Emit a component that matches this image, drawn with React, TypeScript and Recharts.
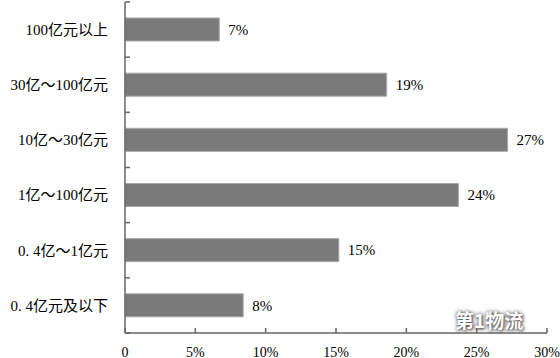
import { Bar, BarChart, LabelList, XAxis, YAxis } from "recharts"

const categories = [
  "100亿元以上",
  "30亿～100亿元",
  "10亿～30亿元",
  "1亿～100亿元",
  "0. 4亿～1亿元",
  "0. 4亿元及以下",
]
const shares = [6.7, 18.6, 27.2, 23.7, 15.2, 8.4]
const shareLabels = ["7%", "19%", "27%", "24%", "15%", "8%"]
const xTicks = [0, 5, 10, 15, 20, 25, 30]

const data = categories.map((name, i) => ({ name, share: shares[i], label: shareLabels[i] }))

const FONT = "'Liberation Serif', 'Noto Sans CJK SC', serif"
const AXIS = "#666666"
const TICK = 5
const Y_MARGIN = 12
const X_MARGIN = 9

// category label plus a short tick on the band edge below it (and above the first one)
function CategoryTick(props: any) {
  const { x, y, payload, index } = props
  const axisX = x + TICK + Y_MARGIN
  const half = payload.offset || 0
  return (
    <g>
      <text x={x} y={y} dy="0.36em" textAnchor="end" fill="#000" fontSize={15} fontFamily={FONT}>
        {payload.value}
      </text>
      {index === 0 && <line x1={axisX} x2={axisX + TICK} y1={y - half} y2={y - half} stroke={AXIS} strokeWidth={1.5} />}
      <line x1={axisX} x2={axisX + TICK} y1={y + half} y2={y + half} stroke={AXIS} strokeWidth={1.5} />
    </g>
  )
}

// value tick pointing up into the plot, label below the axis
function ValueTick(props: any) {
  const { x, y, payload } = props
  const axisY = y - TICK - X_MARGIN
  return (
    <g>
      <line x1={x} x2={x} y1={axisY} y2={axisY - TICK} stroke={AXIS} strokeWidth={1.5} />
      <text x={x} y={y} dy="0.71em" textAnchor="middle" fill="#000" fontSize={14} fontFamily={FONT}>
        {payload.value === 0 ? "0" : `${payload.value}%`}
      </text>
    </g>
  )
}

export default function App() {
  return (
    <div style={{ position: "absolute", left: 0, top: 0, width: 560, height: 358, background: "#fff" }}>
      <BarChart
        width={560}
        height={358}
        data={data}
        layout="vertical"
        margin={{ top: 2, right: 13, left: 0, bottom: 0 }}
        barCategoryGap="29%"
      >
        <XAxis
          type="number"
          domain={[0, 30]}
          ticks={xTicks}
          height={25}
          stroke={AXIS}
          strokeWidth={1.5}
          tickLine={false}
          tickSize={TICK}
          tickMargin={X_MARGIN}
          tick={<ValueTick />}
        />
        <YAxis
          type="category"
          dataKey="name"
          width={125}
          stroke={AXIS}
          strokeWidth={1.5}
          tickLine={false}
          tickSize={TICK}
          tickMargin={Y_MARGIN}
          tick={<CategoryTick />}
        />
        <Bar dataKey="share" fill="#7a7a7a" stroke="#a8a8a8" strokeWidth={1} isAnimationActive={false}>
          <LabelList
            dataKey="label"
            position="right"
            offset={9}
            fill="#000"
            fontSize={15}
            fontFamily={FONT}
          />
        </Bar>
      </BarChart>
      <div
        style={{
          position: "absolute",
          left: 455,
          top: 306,
          fontFamily: "'Noto Sans CJK SC', sans-serif",
          fontWeight: 700,
          fontSize: 19,
          color: "#fff",
          textShadow: "0 0 4px #555, 1px 1px 3px #444",
        }}
      >
        第1物流
      </div>
    </div>
  )
}
